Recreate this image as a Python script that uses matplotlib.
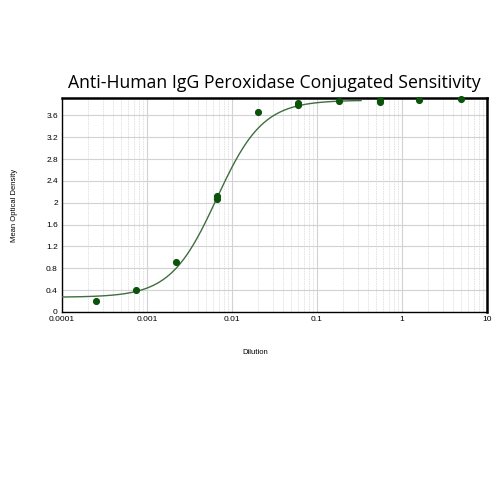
import numpy as np
import matplotlib.pyplot as plt
from matplotlib.ticker import FixedLocator, LogLocator, NullFormatter

# data ############################################################
dilution = [0.00025, 0.00074, 0.0022, 0.0066, 0.0066, 0.02, 0.06, 0.06,
            0.18, 0.55, 0.55, 1.6, 4.9]
mean_od = [0.20, 0.40, 0.91, 2.13, 2.07, 3.67, 3.83, 3.79,
           3.87, 3.89, 3.85, 3.89, 3.91]

# 4PL fit parameters (estimated from the drawn curve)
fit_bottom = 0.27
fit_top = 3.88
fit_ec50 = 0.0066
fit_hill = 1.6
fit_range = (0.0001, 0.33)

x_ticks = [0.0001, 0.001, 0.01, 0.1, 1, 10]
x_tick_labels = ["0.0001", "0.001", "0.01", "0.1", "1", "10"]
y_ticks = [0, 0.4, 0.8, 1.2, 1.6, 2, 2.4, 2.8, 3.2, 3.6]
y_tick_labels = ["0", "0.4", "0.8", "1.2", "1.6", "2", "2.4", "2.8", "3.2", "3.6"]


def four_pl(x):
    return fit_bottom + (fit_top - fit_bottom) / (1 + (fit_ec50 / x) ** fit_hill)


fig = plt.figure(figsize=(5, 5), dpi=100)
ax = fig.add_axes([0.124, 0.376, 0.85, 0.428])

xs = np.logspace(np.log10(fit_range[0]), np.log10(fit_range[1]), 300)
ax.plot(xs, four_pl(xs), color="#3f6e3f", lw=1.0, zorder=3)
ax.scatter(dilution, mean_od, s=17, color="#0b520b", zorder=4, clip_on=False)

ax.set_xscale("log")
ax.set_xlim(0.0001, 10)
ax.set_ylim(0, 3.92)

ax.xaxis.set_major_locator(FixedLocator(x_ticks))
ax.set_xticklabels(x_tick_labels)
ax.xaxis.set_minor_locator(LogLocator(base=10, subs=np.arange(2, 10)))
ax.xaxis.set_minor_formatter(NullFormatter())
ax.set_yticks(y_ticks)
ax.set_yticklabels(y_tick_labels)

ax.grid(which="major", color="#d2d2d2", lw=0.8)
ax.grid(which="minor", axis="x", color="#e0e0e0", lw=0.6, ls=(0, (2, 1)))
ax.set_axisbelow(True)

ax.tick_params(which="both", length=0, labelsize=6, pad=3)
for lab in ax.get_xticklabels() + ax.get_yticklabels():
    lab.set_family("Liberation Sans")
ax.spines["top"].set_linewidth(1.8)
ax.spines["right"].set_linewidth(1.8)
ax.spines["left"].set_linewidth(1.0)
ax.spines["bottom"].set_linewidth(1.0)

fig.text(0.549, 0.833, "Anti-Human IgG Peroxidase Conjugated Sensitivity",
         ha="center", va="center", fontsize=12.7, family="Open Sans")
fig.text(0.51, 0.296, "Dilution", ha="center", va="center", fontsize=5.5,
         family="Liberation Sans")
fig.text(0.03, 0.59, "Mean Optical Density", ha="center", va="center",
         rotation=90, fontsize=5.5, family="Liberation Sans")

fig.savefig("out.png", dpi=100, facecolor="white")
